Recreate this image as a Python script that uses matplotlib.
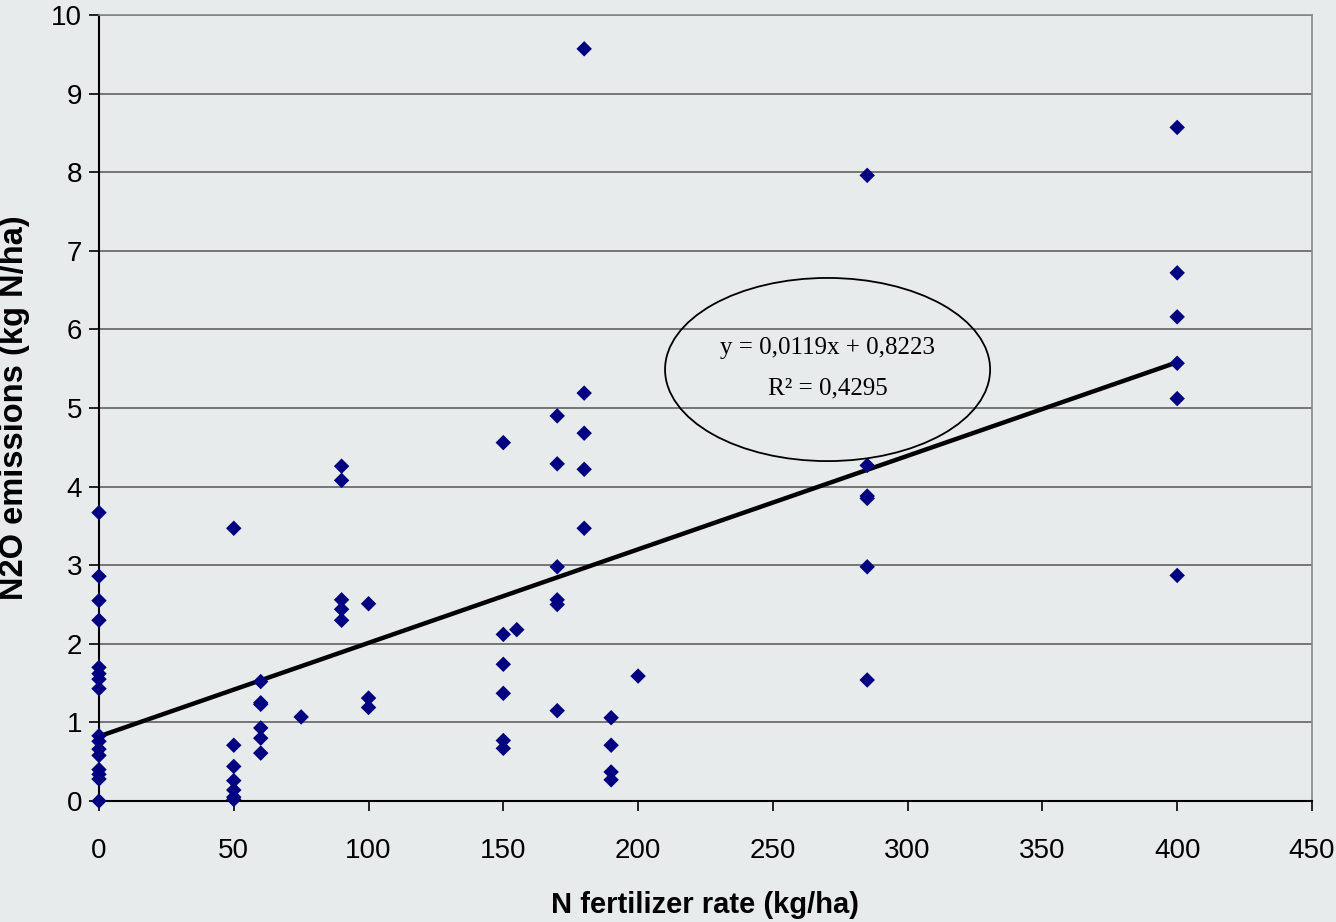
import matplotlib
matplotlib.use("Agg")
import matplotlib.pyplot as plt
from matplotlib.patches import Ellipse
import numpy as np

# N fertilizer rate (kg/ha) and N2O emissions (kg N/ha)
rate_0 = [0] * 16
emis_0 = [3.67, 2.86, 2.55, 2.30, 1.70, 1.62, 1.55, 1.43,
          0.83, 0.76, 0.66, 0.58, 0.40, 0.34, 0.28, 0.0]
rate_50 = [50] * 7 + [60] * 6 + [75]
emis_50 = [3.47, 0.71, 0.44, 0.26, 0.14, 0.05, 0.02,
           1.52, 1.25, 1.23, 0.93, 0.80, 0.61,
           1.07]
rate_100 = [90] * 5 + [100] * 3
emis_100 = [4.26, 4.08, 2.56, 2.44, 2.30,
            2.51, 1.31, 1.19]
rate_150 = [150] * 6 + [155] + [170] * 6 + [180] * 5 + [190] * 4 + [200]
emis_150 = [4.56, 2.12, 1.74, 1.37, 0.77, 0.67,
            2.18,
            4.90, 4.29, 2.98, 2.56, 2.50, 1.15,
            9.57, 5.19, 4.68, 4.22, 3.47,
            1.06, 0.71, 0.37, 0.27,
            1.59]
rate_high = [285] * 6 + [400] * 6
emis_high = [7.96, 4.27, 3.88, 3.85, 2.98, 1.54,
             8.57, 6.72, 6.16, 5.57, 5.12, 2.87]

x = np.array(rate_0 + rate_50 + rate_100 + rate_150 + rate_high, dtype=float)
y = np.array(emis_0 + emis_50 + emis_100 + emis_150 + emis_high)

slope = 0.0119
intercept = 0.8223
r2 = 0.4295

bg = "#e7ebec"
fig = plt.figure(figsize=(13.36, 9.22), dpi=100, facecolor=bg)
ax = fig.add_axes([0.0741, 0.1312, 0.9079, 0.8525])
ax.set_facecolor(bg)

ax.set_xlim(0, 450)
ax.set_ylim(0, 10)
ax.set_xticks(np.arange(0, 451, 50))
ax.set_yticks(np.arange(0, 11, 1))
ax.yaxis.grid(True, color="#555555", lw=1.1)
ax.set_axisbelow(True)

for s in ["top", "right"]:
    ax.spines[s].set_color("#888888")
    ax.spines[s].set_linewidth(1.2)
for s in ["left", "bottom"]:
    ax.spines[s].set_color("black")
    ax.spines[s].set_linewidth(1.5)

ax.tick_params(axis="both", direction="out", length=7, width=1.2,
               labelsize=20, colors="black")
ax.tick_params(axis="y", pad=5)
ax.tick_params(axis="x", pad=19.5)
for lab in ax.get_xticklabels() + ax.get_yticklabels():
    lab.set_family(["Liberation Sans", "DejaVu Sans"])

# trend line
xl = np.array([0, 400])
ax.plot(xl, slope * xl + intercept, color="black", lw=3.2, zorder=3)

ax.scatter(x, y, marker="D", s=62, color="#000080", zorder=4, clip_on=False,
           edgecolors="none")

# equation in ellipse
serif = ["Liberation Serif", "DejaVu Serif"]
ax.add_patch(Ellipse((270.3, 5.49), 120.6, 2.33, fill=False, ec="black", lw=1.3, zorder=5))
ax.text(270.3, 5.76, "y = 0,0119x + 0,8223", ha="center", va="center",
        fontsize=18, family=serif, zorder=6)
ax.text(270.3, 5.25, "R² = 0,4295", ha="center", va="center",
        fontsize=18, family=serif, zorder=6)

lab_font = dict(fontweight="bold",
                family=["Liberation Sans Narrow", "Liberation Sans", "DejaVu Sans"])
ax.set_xlabel("N fertilizer rate (kg/ha)", fontsize=21, **lab_font)
ax.set_ylabel("N2O emissions (kg N/ha)", fontsize=23.5, **lab_font)
ax.xaxis.set_label_coords(0.4996, -0.132)
ax.xaxis.label.set_va("center")
ax.yaxis.set_label_coords(-0.0693, 0.5)
ax.yaxis.label.set_va("center")

fig.savefig("out.png", dpi=100, facecolor=bg)
